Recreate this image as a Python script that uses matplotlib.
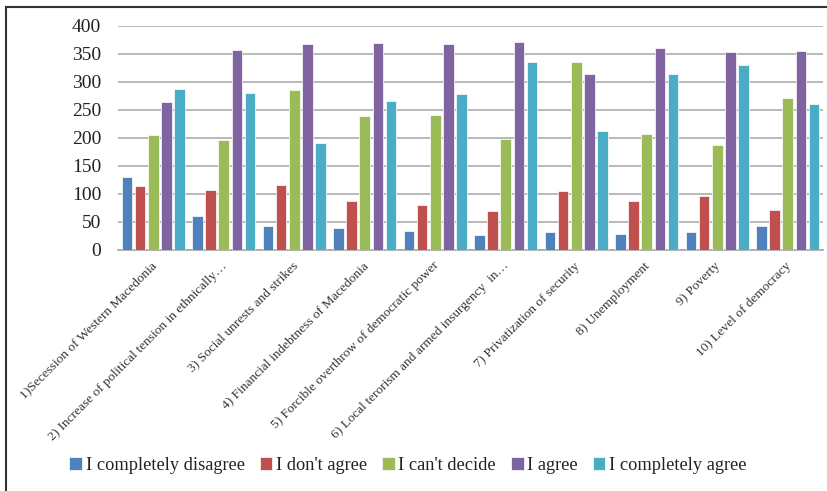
import numpy as np
import matplotlib
matplotlib.use("Agg")
import matplotlib.pyplot as plt
from matplotlib.patches import Rectangle
from matplotlib.transforms import ScaledTranslation

categories = [
    "1)Secession of Western Macedonia",
    "2) Increase of political tension in ethnically\u2026",
    "3) Social unrests and strikes",
    "4) Financial indebtness of Macedonia",
    "5) Forcible overthrow of democratic power",
    "6) Local terorism and armed insurgency  in\u2026",
    "7) Privatization of security",
    "8) Unemployment",
    "9) Poverty",
    "10) Level of democracy",
]
series_names = ["I completely disagree", "I don't agree", "I can't decide",
                "I agree", "I completely agree"]
completely_disagree = [130, 61, 43, 39, 34, 27, 33, 28, 32, 42]
dont_agree = [115, 108, 116, 87, 80, 69, 105, 87, 97, 71]
cant_decide = [205, 197, 285, 240, 241, 198, 335, 208, 188, 271]
agree = [265, 357, 367, 369, 367, 371, 315, 361, 354, 355]
completely_agree = [288, 280, 191, 266, 278, 335, 212, 315, 330, 261]
colors = ["#4F81BD", "#C0504D", "#9BBB59", "#8064A2", "#4BACC6"]

plt.rcParams['font.family'] = ['Liberation Serif', 'DejaVu Serif']

fig = plt.figure(figsize=(8.28, 4.91), dpi=100)
ax = fig.add_axes([118/828, 1 - 250/491, 705/828, 224/491])

x = np.arange(len(categories))
width = 0.15
step = 0.185
all_series = [completely_disagree, dont_agree, cant_decide, agree, completely_agree]
for i, vals in enumerate(all_series):
    ax.bar(x + (i - 2) * step, vals, width, color=colors[i], label=series_names[i],
           edgecolor='white', linewidth=0.5, zorder=3)

ax.set_xlim(-0.5, len(categories) - 0.5)
ax.set_ylim(0, 400)
ax.set_yticks(range(0, 401, 50))
ax.yaxis.grid(True, color='#A6A6A6', linewidth=1.1, zorder=0)
for s in ['top', 'right', 'left']:
    ax.spines[s].set_visible(False)
ax.spines['bottom'].set_color('#A6A6A6')
ax.spines['bottom'].set_linewidth(1.2)
ax.tick_params(axis='y', length=0, labelsize=14, pad=12, labelcolor='#222222')
ax.tick_params(axis='x', length=0, pad=7)
ax.set_xticks(x)
ax.set_xticklabels(categories, rotation=45, ha='right', va='top',
                   rotation_mode='anchor', fontsize=9.6, color='#333333')
offset = ScaledTranslation(-2/72, 0, fig.dpi_scale_trans)
for lbl in ax.get_xticklabels():
    lbl.set_transform(lbl.get_transform() + offset)

fig.legend(loc='center', bbox_to_anchor=(408/828, 1 - 465/491), ncol=5,
           frameon=False, fontsize=13.2, handlelength=0.7, handleheight=0.7,
           handletextpad=0.2, columnspacing=0.8, labelcolor='#222222')

fig.patches.append(Rectangle((6/828, -0.1), 1.2, 1 - 6.5/491 + 0.1,
                             transform=fig.transFigure, fill=False,
                             edgecolor='#333333', linewidth=1.5))

fig.savefig('out.png', dpi=100)
